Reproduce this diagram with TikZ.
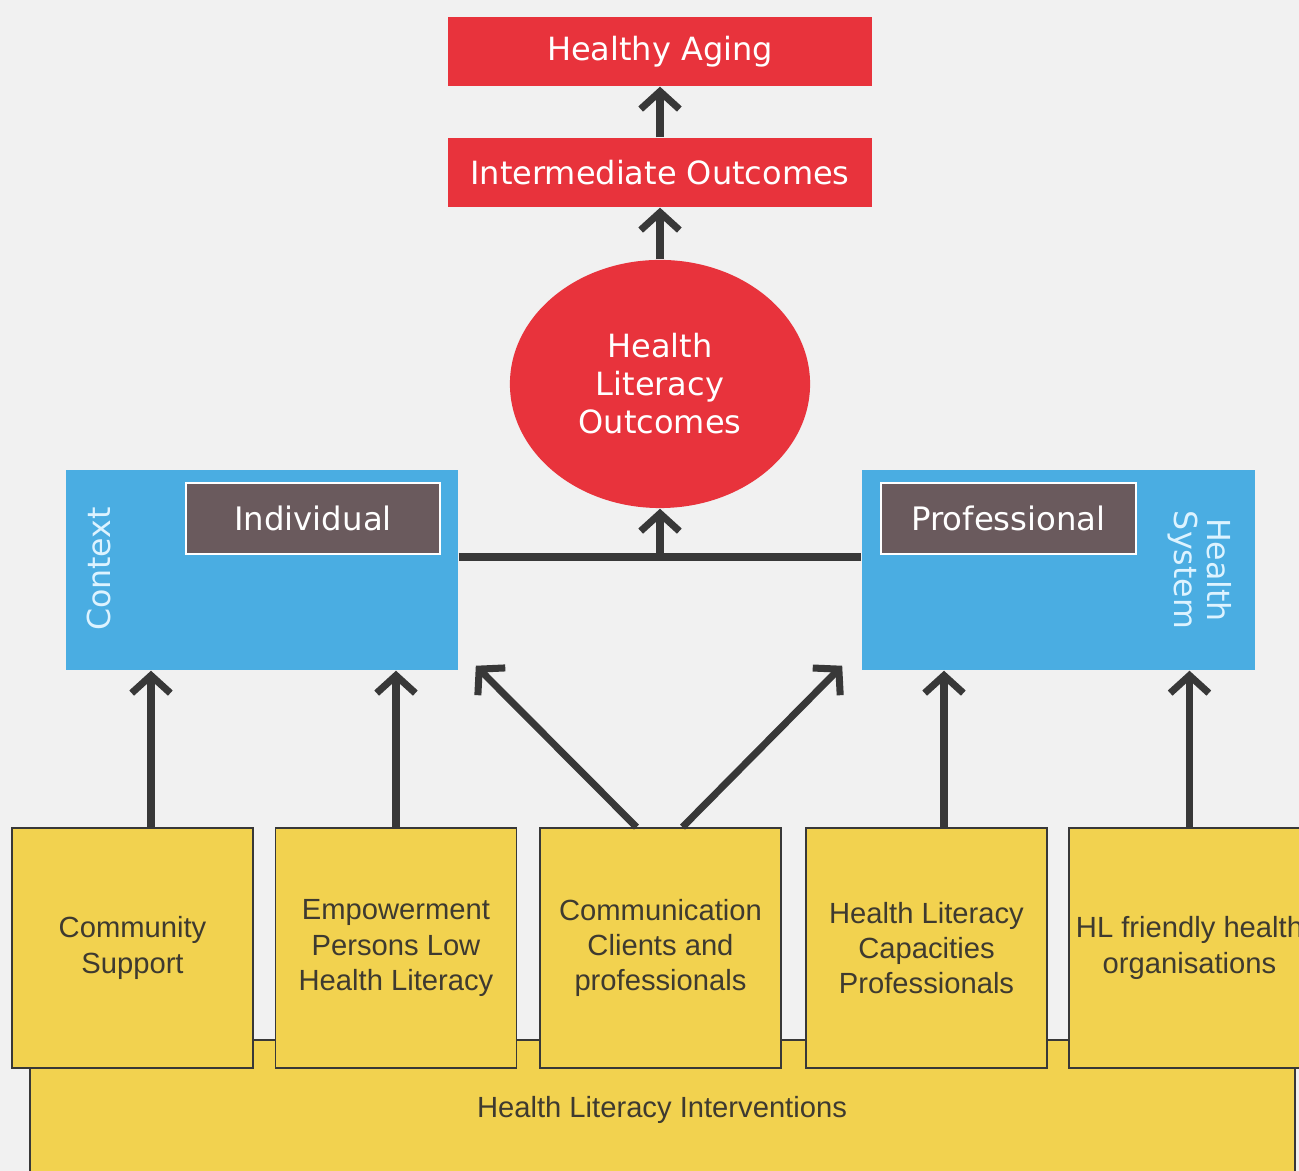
\documentclass[tikz,border=0pt]{standalone}
\usepackage{fontspec}
\setmainfont{DejaVu Sans}
\newfontfamily\arialfont{Liberation Sans}
\usetikzlibrary{arrows.meta,shapes.geometric,calc}
\definecolor{hlred}{HTML}{E8333C}
\definecolor{hlblue}{HTML}{4AADE2}
\definecolor{hlbrown}{HTML}{6A5A5D}
\definecolor{hlyellow}{HTML}{F2D24F}
\definecolor{hlgray}{HTML}{383838}
\definecolor{hltext}{HTML}{3E3A30}
\definecolor{hlside}{HTML}{DDF3FF}
\definecolor{hlbg}{HTML}{F1F1F1}
\begin{document}
\begin{tikzpicture}[x=0.01cm, y=-0.01cm,
  redbox/.style={rectangle, fill=hlred, text=white, inner sep=0pt, minimum width=4.24cm, minimum height=0.69cm, font=\fontsize{9.1}{10.8}\selectfont},
  bluebox/.style={rectangle, fill=hlblue, inner sep=0pt, minimum height=2cm},
  tagbox/.style={rectangle, fill=hlbrown, draw=white, line width=0.8pt, text=white, inner sep=0pt, minimum height=0.71cm, font=\fontsize{9.2}{11}\selectfont},
  sidetext/.style={text=hlside, align=center, inner sep=0pt, font=\fontsize{9}{9.4}\selectfont},
  ivbox/.style={rectangle, fill=hlyellow, draw=hlgray, line width=0.45pt, inner sep=0pt, minimum width=2.41cm, minimum height=2.4cm, align=center, text=hltext, font=\arialfont\fontsize{8.3}{10}\selectfont},
  arr/.style={draw=hlgray, line width=2pt, -{Straight Barb[length=5pt, width=11pt]}},
  link/.style={draw=hlgray, line width=2pt}]
\useasboundingbox (0,0) rectangle (1299,1171);
\clip (0,0) rectangle (1299,1171);
\fill[hlbg] (0,0) rectangle (1299,1171);
\node[redbox] (aging) at (660,51.5) {Healthy Aging};
\node[redbox] (inter) at (660,172.5) {Intermediate Outcomes};
\node[ellipse, fill=hlred, text=white, inner sep=0pt, minimum width=3cm, minimum height=2.48cm, align=center, font=\fontsize{9.1}{10.8}\selectfont] (hlo) at (660,384) {Health\\Literacy\\Outcomes};
\draw[arr] (inter) -- (aging);
\draw[arr] (hlo) -- (inter);
\node[bluebox, minimum width=3.92cm] (ctx) at (262,570) {};
\node[bluebox, minimum width=3.93cm] (hsys) at (1058.5,570) {};
\node[tagbox, minimum width=2.54cm] (indiv) at (313,518.5) {Individual};
\node[tagbox, minimum width=2.55cm] (prof) at (1008.5,518.5) {Professional};
\node[sidetext, rotate=90] (ctxlab) at (99,569) {Context};
\node[sidetext, rotate=-90] (hsyslab) at (1200,570) {Health\\System};
\coordinate (join) at (660,557);
\draw[link] (join -| ctx.east) -- (join -| hsys.west);
\draw[arr] (join) -- (hlo.south);
\fill[hlyellow, draw=hlgray, line width=0.45pt] (30,1040) rectangle (1295,1190);
\node[text=hltext, font=\arialfont\fontsize{8.3}{10}\selectfont] (hli) at (662,1110) {Health Literacy Interventions};
\node[ivbox] (iv1) at (132.5,948) {Community\\Support};
\node[ivbox] (iv2) at (396,948) {Empowerment\\Persons Low\\Health Literacy};
\node[ivbox] (iv3) at (660.5,948) {Communication\\Clients and\\professionals};
\node[ivbox] (iv4) at (926.5,948) {Health Literacy\\Capacities\\Professionals};
\node[ivbox] (iv5) at (1189.5,948) {HL friendly health\\organisations};
\draw[arr] (iv1.north -| 151,0) -- (ctx.south -| 151,0);
\draw[arr] (iv2.north) -- (iv2.north |- ctx.south);
\draw[arr] ($(iv3.north)+(-24,0)$) -- ($(ctx.south east)+(17,-5)$);
\draw[arr] ($(iv3.north)+(22,0)$) -- ($(hsys.south west)+(-19,-5)$);
\draw[arr] (iv4.north -| 944,0) -- (hsys.south -| 944,0);
\draw[arr] (iv5.north) -- (iv5.north |- hsys.south);
\end{tikzpicture}
\end{document}
